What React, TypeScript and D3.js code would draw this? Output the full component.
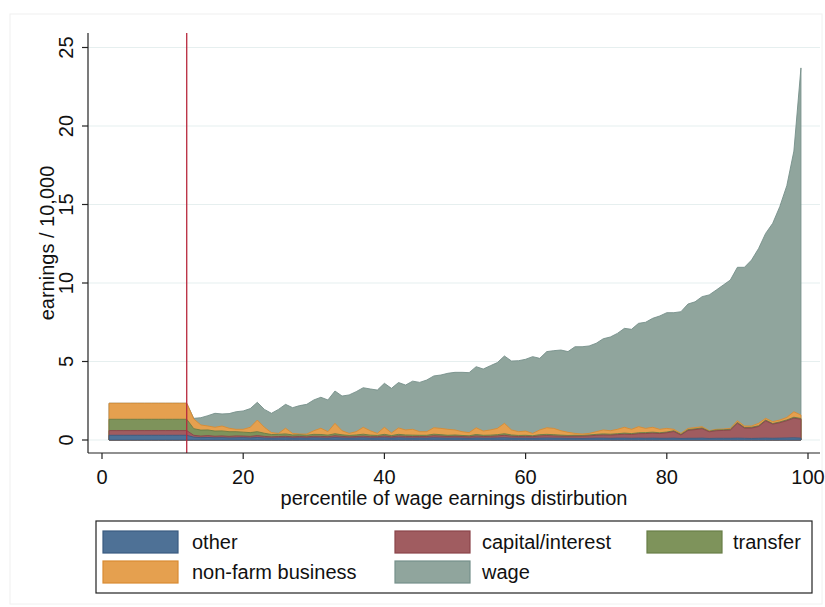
import * as d3 from 'd3';

// percentiles 1..99 of the wage earnings distribution
const percentiles = d3.range(1, 100);

// earnings / 10,000 by source (stacked bottom to top)
const other = [
  0.3, 0.3, 0.3, 0.3, 0.3, 0.3, 0.3, 0.3, 0.3, 0.3, 0.3, 0.3,
  0.18, 0.15, 0.16, 0.14, 0.15, 0.13, 0.14, 0.15, 0.13, 0.16,
  0.13, 0.12, 0.13, 0.14, 0.12, 0.13, 0.12, 0.14, 0.13, 0.12,
  0.15, 0.13, 0.12, 0.13, 0.14, 0.12, 0.13, 0.14, 0.12, 0.14,
  0.13, 0.12, 0.13, 0.12, 0.14, 0.13, 0.12, 0.13, 0.12, 0.11,
  0.13, 0.12, 0.12, 0.13, 0.14, 0.12, 0.12, 0.12, 0.11, 0.12,
  0.13, 0.12, 0.12, 0.11, 0.11, 0.1, 0.11, 0.12, 0.12, 0.11,
  0.12, 0.12, 0.11, 0.12, 0.11, 0.12, 0.11, 0.11, 0.12, 0.1,
  0.11, 0.11, 0.12, 0.1, 0.11, 0.11, 0.11, 0.12, 0.11, 0.1,
  0.11, 0.12, 0.11, 0.12, 0.13, 0.14, 0.12,
];
const capital = [
  0.3, 0.3, 0.3, 0.3, 0.3, 0.3, 0.3, 0.3, 0.3, 0.3, 0.3, 0.3,
  0.12, 0.1, 0.12, 0.1, 0.11, 0.1, 0.12, 0.1, 0.1, 0.12,
  0.1, 0.08, 0.09, 0.1, 0.08, 0.09, 0.08, 0.1, 0.1, 0.09,
  0.12, 0.1, 0.08, 0.09, 0.11, 0.09, 0.08, 0.12, 0.08, 0.12,
  0.1, 0.1, 0.09, 0.1, 0.13, 0.12, 0.1, 0.11, 0.1, 0.09,
  0.13, 0.1, 0.11, 0.13, 0.16, 0.12, 0.1, 0.11, 0.1, 0.14,
  0.15, 0.14, 0.12, 0.12, 0.13, 0.14, 0.15, 0.18, 0.2, 0.2,
  0.22, 0.25, 0.24, 0.28, 0.3, 0.32, 0.3, 0.35, 0.42, 0.22,
  0.5, 0.55, 0.6, 0.42, 0.48, 0.5, 0.52, 0.95, 0.65, 0.66,
  0.75, 1.1, 0.9, 0.98, 1.1, 1.25, 1.2,
];
const transfer = [
  0.72, 0.72, 0.72, 0.72, 0.72, 0.72, 0.72, 0.72, 0.72, 0.72, 0.72, 0.72,
  0.42, 0.38, 0.36, 0.33, 0.32, 0.3, 0.27, 0.25, 0.24, 0.25,
  0.2, 0.15, 0.14, 0.15, 0.12, 0.11, 0.1, 0.12, 0.12, 0.1,
  0.13, 0.1, 0.09, 0.1, 0.12, 0.1, 0.08, 0.1, 0.08, 0.1,
  0.09, 0.09, 0.08, 0.08, 0.1, 0.09, 0.08, 0.08, 0.07, 0.07,
  0.09, 0.08, 0.08, 0.08, 0.1, 0.08, 0.07, 0.07, 0.06, 0.08,
  0.08, 0.08, 0.07, 0.06, 0.06, 0.05, 0.06, 0.06, 0.07, 0.06,
  0.06, 0.07, 0.06, 0.06, 0.06, 0.06, 0.05, 0.05, 0.05, 0.04,
  0.05, 0.05, 0.05, 0.04, 0.05, 0.04, 0.05, 0.05, 0.04, 0.05,
  0.05, 0.05, 0.04, 0.05, 0.05, 0.06, 0.05,
];
const nonfarm = [
  1.02, 1.02, 1.02, 1.02, 1.02, 1.02, 1.02, 1.02, 1.02, 1.02, 1.02, 1.02,
  0.62, 0.33, 0.25, 0.24, 0.31, 0.22, 0.15, 0.18, 0.34, 0.74,
  0.38, 0.12, 0.06, 0.36, 0.1, 0.05, 0.08, 0.23, 0.4, 0.22,
  0.66, 0.26, 0.13, 0.21, 0.44, 0.28, 0.13, 0.45, 0.17, 0.41,
  0.32, 0.37, 0.23, 0.23, 0.41, 0.4, 0.38, 0.32, 0.24, 0.2,
  0.43, 0.27, 0.33, 0.4, 0.66, 0.32, 0.24, 0.27, 0.15, 0.3,
  0.42, 0.4, 0.28, 0.2, 0.12, 0.09, 0.1, 0.17, 0.25, 0.22,
  0.28, 0.37, 0.27, 0.39, 0.27, 0.31, 0.22, 0.23, 0.09, 0.06,
  0.08, 0.08, 0.08, 0.03, 0.04, 0.05, 0.06, 0.11, 0.09, 0.08,
  0.15, 0.11, 0.12, 0.12, 0.16, 0.35, 0.22,
];
const wage = [
  0, 0, 0, 0, 0, 0, 0, 0, 0, 0, 0, 0,
  0.04, 0.46, 0.66, 0.89, 0.77, 0.93, 1.12, 1.17, 1.19, 1.13,
  1.14, 1.23, 1.53, 1.52, 1.64, 1.81, 1.89, 1.96, 1.97, 2.02,
  2.06, 2.21, 2.45, 2.55, 2.52, 2.66, 2.76, 2.8, 2.84, 2.89,
  2.86, 3.07, 3.14, 3.29, 3.3, 3.4, 3.57, 3.67, 3.78, 3.82,
  3.89, 3.95, 4.09, 4.19, 4.29, 4.39, 4.52, 4.57, 4.89, 4.56,
  4.85, 4.95, 5.14, 5.14, 5.52, 5.56, 5.57, 5.63, 5.81, 5.97,
  6.11, 6.3, 6.37, 6.58, 6.76, 6.94, 7.22, 7.37, 7.43, 7.75,
  7.92, 8.01, 8.28, 8.65, 8.87, 9.17, 9.45, 9.77, 10.11, 10.57,
  11.14, 11.78, 12.63, 13.59, 14.76, 16.6, 22.11,
];

const keys = ['other', 'capital', 'transfer', 'nonfarm', 'wage'];
const labels: Record<string, string> = {
  other: 'other',
  capital: 'capital/interest',
  transfer: 'transfer',
  nonfarm: 'non-farm business',
  wage: 'wage',
};
const fills: Record<string, string> = {
  other: '#4e7196',
  capital: '#a05c60',
  transfer: '#7e935b',
  nonfarm: '#e5a04f',
  wage: '#90a59d',
};
const strokes: Record<string, string> = {
  other: '#3a5b80',
  capital: '#8a444a',
  transfer: '#687d47',
  nonfarm: '#d98b32',
  wage: '#76908a',
};

const xTicks = [0, 20, 40, 60, 80, 100];
const yTicks = [0, 5, 10, 15, 20, 25];
const cutoff = 12;

const W = 825;
const H = 607;
const font = '"Liberation Sans", Arial, Helvetica, sans-serif';

export default function App() {
  const rows = percentiles.map((p, i) => ({
    p,
    other: other[i],
    capital: capital[i],
    transfer: transfer[i],
    nonfarm: nonfarm[i],
    wage: wage[i],
  }));

  const x = d3.scaleLinear().domain([0, 100]).range([102, 808]);
  const y = d3.scaleLinear().domain([0, 25]).range([440, 47.5]);

  const plotLeft = 88;
  const plotRight = 820;
  const plotTop = 33;
  const plotBottom = 453;

  const series = d3.stack<any>().keys(keys)(rows);

  // Stata-style: each layer drawn from zero to its cumulative top, largest first
  const area = d3
    .area<any>()
    .x((d) => x(d.data.p))
    .y0(y(0))
    .y1((d) => y(d[1]));

  const legendItems = [
    { key: 'other', sx: 103, sy: 531, tx: 192 },
    { key: 'capital', sx: 395, sy: 531, tx: 482 },
    { key: 'transfer', sx: 647, sy: 531, tx: 733 },
    { key: 'nonfarm', sx: 103, sy: 561, tx: 192 },
    { key: 'wage', sx: 395, sy: 561, tx: 482 },
  ];

  return (
    <svg
      width={W}
      height={H}
      style={{ position: 'absolute', left: 0, top: 0, background: '#fff' }}
      fontFamily={font}
    >
      <rect x={10} y={14} width={812} height={590} fill="#fff" stroke="#f0f0f0" />

      {/* gridlines */}
      {yTicks.map((t) => (
        <line
          key={'g' + t}
          x1={plotLeft}
          x2={plotRight}
          y1={y(t)}
          y2={y(t)}
          stroke="#e6efef"
          strokeWidth={1.2}
        />
      ))}

      {/* areas */}
      {series
        .slice()
        .reverse()
        .map((s) => (
          <path
            key={s.key}
            d={area(s as any) || ''}
            fill={fills[s.key]}
            stroke={strokes[s.key]}
            strokeWidth={0.9}
            strokeLinejoin="round"
          />
        ))}

      {/* cutoff line */}
      <line
        x1={x(cutoff)}
        x2={x(cutoff)}
        y1={plotTop}
        y2={plotBottom}
        stroke="#b8283c"
        strokeWidth={1.3}
      />

      {/* axes */}
      <line x1={plotLeft} x2={plotLeft} y1={plotTop} y2={plotBottom} stroke="#222" strokeWidth={1.2} />
      <line x1={plotLeft} x2={plotRight} y1={plotBottom} y2={plotBottom} stroke="#222" strokeWidth={1.2} />

      {yTicks.map((t) => (
        <g key={'y' + t}>
          <line x1={plotLeft - 6} x2={plotLeft} y1={y(t)} y2={y(t)} stroke="#222" strokeWidth={1.2} />
          <text
            transform={`translate(73,${y(t)}) rotate(-90)`}
            textAnchor="middle"
            fontSize={20}
            fill="#111"
          >
            {t}
          </text>
        </g>
      ))}
      <text
        transform={`translate(54,${(plotTop + plotBottom) / 2}) rotate(-90)`}
        textAnchor="middle"
        fontSize={20}
        fill="#111"
      >
        earnings / 10,000
      </text>

      {xTicks.map((t) => (
        <g key={'x' + t}>
          <line x1={x(t)} x2={x(t)} y1={plotBottom} y2={plotBottom + 6} stroke="#222" strokeWidth={1.2} />
          <text x={x(t)} y={484} textAnchor="middle" fontSize={20} fill="#111">
            {t}
          </text>
        </g>
      ))}
      <text x={(plotLeft + plotRight) / 2} y={505} textAnchor="middle" fontSize={20} fill="#111">
        percentile of wage earnings distirbution
      </text>

      {/* legend */}
      <rect x={96} y={521} width={716} height={72} fill="#fff" stroke="#222" strokeWidth={1.2} />
      {legendItems.map((it) => (
        <g key={'l' + it.key}>
          <rect
            x={it.sx}
            y={it.sy}
            width={75}
            height={22}
            fill={fills[it.key]}
            stroke={strokes[it.key]}
            strokeWidth={1.2}
          />
          <text x={it.tx} y={it.sy + 18} fontSize={20} fill="#111">
            {labels[it.key]}
          </text>
        </g>
      ))}
    </svg>
  );
}
